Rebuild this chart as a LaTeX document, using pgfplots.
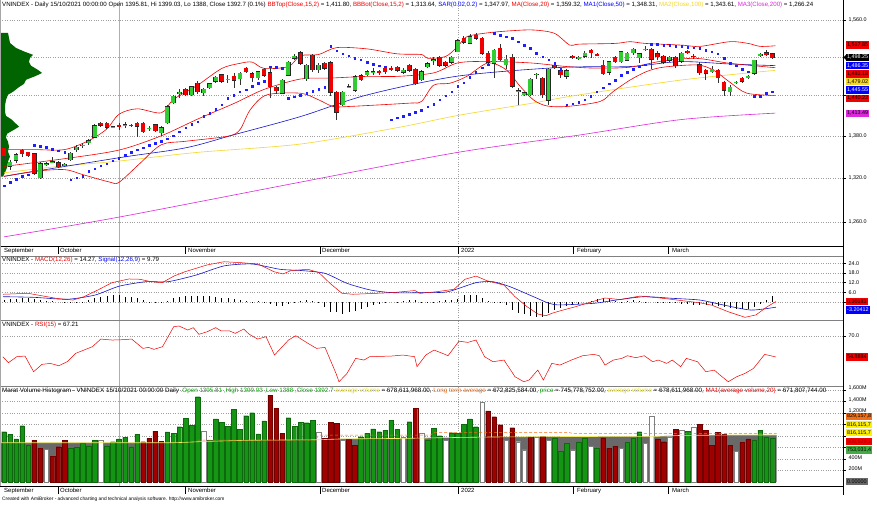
\documentclass[border=0pt]{standalone}
\usepackage{pgfplots}
\pgfplotsset{compat=1.18}
\usepackage{pgfplotstable}
\usepackage{fontspec}
\setmainfont{Liberation Sans}
\definecolor{cgreen}{RGB}{50,205,50}
\definecolor{cred}{RGB}{240,0,0}
\definecolor{vgreen}{RGB}{20,150,20}
\definecolor{vred}{RGB}{160,0,0}
\definecolor{pgreen}{RGB}{0,100,0}
\definecolor{mablue}{RGB}{20,20,200}
\definecolor{mayellow}{RGB}{245,215,40}
\definecolor{mamag}{RGB}{220,40,220}
\definecolor{cursor}{RGB}{165,165,255}
\definecolor{vgray}{RGB}{105,105,105}
\definecolor{vorange}{RGB}{240,110,20}
\definecolor{tyellow}{RGB}{230,220,0}
\definecolor{tgreen}{RGB}{0,170,0}
\definecolor{sarblue}{RGB}{30,30,255}

\pgfplotstableread{
i o h l c sar v vc hist
0 1362 1364 1346 1351 1309 875 0 1.5
1 1336.4 1345.6 1331.5 1342 1314 829 0 1.9
2 1344.6 1355 1341 1352.6 1318 748 0 2.1
3 1359 1361.5 1349 1354 1322 979 0 2.3
4 1356 1357 1349 1351 1324 643 0 2.4
5 1354 1355 1324.5 1326 1366 730 1 1.8
6 1319.9 1341.8 1318.5 1339.9 1364.5 586 1 1.3
7 1339 1342 1337 1340 1363.5 568 2 0.8
8 1342 1349 1341 1342.7 1360.7 452 1 0.4
9 1341.3 1343 1334 1335.5 1358.5 614 1 0
10 1337 1341.5 1336 1339 1356.5 730 1 -0.2
11 1345.6 1357 1344 1355 1317.5 586 0 -0.5
12 1359.9 1366 1356 1363.8 1320 603 0 -0.4
13 1366 1369 1362 1366.4 1322 673 0 -0.1
14 1369.5 1375 1367 1373.3 1329 626 0 1.5
15 1378 1397 1377 1395.2 1333 730 0 2.3
16 1398.7 1401 1393 1395.2 1337 730 2 3.0
17 1398.7 1400 1390 1392.3 1340 626 0 3.7
18 1393 1395 1392 1393.5 1344 701 0 4.2
19 1395.81 1399.03 1388 1392.7 1347.97 748 0 4.48
20 1396 1401 1391 1396.5 1352 777 0 3.0
21 1395.5 1398 1393 1395 1356 614 0 2.9
22 1398.7 1400 1378 1393.8 1360 829 0 2.2
23 1398.7 1400 1384 1386 1363 701 1 1.3
24 1390.5 1394 1387 1391 1366 759 1 0.3
25 1396.7 1398 1385 1387 1369 887 1 -0.2
26 1384.5 1394 1380 1392.3 1372 713 1 -0.6
27 1398.7 1425 1397 1423.4 1376 870 0 0.9
28 1428.6 1441 1427 1439.2 1380 846 0 2.5
29 1442.7 1450 1437 1445.8 1386 962 0 3.1
30 1449.9 1451 1439 1440.7 1392 1107 0 3.8
31 1440.7 1455 1439 1453.5 1397 991 0 4.0
32 1459.5 1462 1442 1445.8 1401 1484 0 3.8
33 1444.3 1452 1439 1449.9 1408.7 893 2 3.8
34 1452 1460 1450 1458.2 1413.6 730 0 3.5
35 1461.6 1470 1459 1468.4 1419.5 1096 0 3.0
36 1472 1474 1459 1461.6 1426 1038 0 2.6
37 1465 1472 1459 1465.5 1436 974 0 2.2
38 1470.4 1475 1452 1463.2 1441 1264 0 1.7
39 1465.3 1476 1456 1474.6 1446 916 0 1.2
40 1482.4 1485 1475 1477 1449 1153 0 0.8
41 1474 1476 1461 1466.8 1454 1206 0 0.3
42 1466.8 1478 1464 1477 1459 835 0 0.7
43 1480.8 1483 1469 1471.3 1462 1061 0 -0.4
44 1475.6 1482.4 1436 1453.1 1485 1513 1 -1.5
45 1453.1 1454 1443 1447.3 1484 1281 1 -2.3
46 1443.4 1466 1442 1464.2 1482 846 1 -2.7
47 1471 1493 1470 1491.8 1436 1119 0 -1.3
48 1498 1505 1495 1501.5 1438 974 0 -0.2
49 1507 1509 1488 1490 1441 1038 0 0.4
50 1465.3 1489 1462 1487.5 1444 1032 0 1.0
51 1503 1505 1477 1479.7 1447 1078 0 0.5
52 1479.7 1490 1475 1487.5 1450 864 2 -0.3
53 1490 1492 1480 1482 1453 759 1 -3.2
54 1491 1493 1440 1445 1517 1038 1 -6.0
55 1445.4 1447 1403.6 1414.5 1510 1020 1 -6.5
56 1426 1447 1424 1445.4 1505 730 2 -7.2
57 1453 1458 1451 1454 1502 742 1 -6.2
58 1447.8 1471 1446 1469.4 1498 643 1 -5.3
59 1471 1473 1462 1464.2 1496 788 0 -4.1
60 1472 1479 1470 1477 1491.6 846 0 -2.8
61 1476.5 1482 1472 1477 1489 922 0 -2.0
62 1477.5 1480 1472 1477 1486.5 875 0 -1.3
63 1482.4 1484 1474 1477 1485 904 0 -0.6
64 1482.4 1486 1478 1481 1403.6 1078 0 0
65 1484 1486 1476 1478.6 1406.4 916 0 0.3
66 1475.5 1482 1474 1479.7 1409 777 2 0.6
67 1487 1489 1476 1478.6 1412 1049 0 1.0
68 1480.8 1483 1456 1457.8 1415 1281 1 1.3
69 1464.2 1479 1462 1477 1418 857 2 -0.4
70 1484 1492 1482 1489.3 1423 730 0 -0.1
71 1495 1500 1488 1496 1427 934 0 0.2
72 1499.5 1501 1485 1487 1433.5 805 0 0.7
73 1492.3 1494 1485 1487 1439.5 730 2 1.0
74 1491.3 1501 1489 1499.5 1445.6 857 0 1.1
75 1508.6 1529 1508 1526.3 1454.7 846 0 1.9
76 1530 1534 1521 1523.4 1460 1003 0 4.4
77 1521.8 1537 1520 1532.5 1468 1096 0 4.4
78 1535.4 1538 1528 1530.2 1476 962 0 4.1
79 1530.2 1532 1504 1505.6 1483 1386 2 2.2
80 1506.7 1510 1489 1491.3 1488 1235 1 0.4
81 1490 1513 1467 1511.3 1538 1136 1 -0.4
82 1514 1520 1494 1495.4 1535 997 1 -0.7
83 1487.5 1503 1481 1496.5 1532.6 730 2 -1.9
84 1499.5 1505 1451 1454 1530 944 1 -4.8
85 1447 1451 1426 1447.5 1524.5 701 2 -7.0
86 1440.8 1446 1439 1444.7 1519 557 2 -7.6
87 1440.8 1467 1439 1465.3 1514 777 1 -8.7
88 1472.5 1475 1465 1473 1506 788 2 -9.1
89 1467 1469 1437 1441 1500.8 800 1 -9.2
90 1432.5 1482 1426 1480.8 1495.4 730 2 -6.7
91 1486.9 1489 1481 1483.2 1490 770 0 -5.0
92 1478.6 1480 1467 1472 1481 539 0 -3.6
93 1469.4 1481 1466 1478.6 1426 673 0 -2.7
94 1501 1503 1497 1498.5 1427.6 557 2 -1.9
95 1498 1502 1496 1500 1430 701 0 -1.1
96 1500.7 1510 1498 1506 1433.6 759 0 0
97 1511.3 1513 1498 1507 1439 626 2 0.9
98 1505 1507 1501 1503 1445.6 586 0 1.6
99 1487 1495 1472 1473.5 1452 770 1 2.2
100 1475.6 1494 1472 1493 1458 586 1 1.7
101 1499.5 1501 1490 1492.7 1463.6 626 1 0.7
102 1492.7 1510 1491 1508.6 1471.5 586 2 0.3
103 1494.5 1508 1493 1506.7 1476 690 0 0.8
104 1506.7 1515 1504 1512.5 1481 759 0 1.0
105 1498.6 1507 1490 1505.6 1485 875 0 0.8
106 1512 1518 1510 1513 1488 673 2 0.1
107 1512.3 1514 1481 1496.5 1520.6 1148 2 0
108 1505.6 1510 1495 1500.3 1520.6 748 1 -0.1
109 1501.3 1504 1489 1491.3 1519 701 1 -0.3
110 1494.5 1501 1492 1499.5 1519 788 2 -0.6
111 1499.5 1501 1483 1485.6 1517.6 916 1 -0.9
112 1493 1508 1491 1506.6 1517 904 2 -1.2
113 1509 1511 1505 1506.6 1516 887 0 -1.4
114 1501.5 1505 1497 1500.5 1515 951 2 -1.6
115 1488 1492 1472 1475 1514 1003 1 -1.7
116 1479.7 1481 1464 1474.5 1511 904 1 -1.6
117 1477 1486 1475 1481 1508.6 643 1 -1.6
118 1479.7 1481 1459 1467 1505 864 1 -2.3
119 1460.5 1462 1440 1448 1498 829 1 -3.1
120 1445.4 1457 1440 1453 1490 643 1 -3.8
121 1460 1463 1458 1461 1486 539 2 -4.1
122 1467 1469 1460 1461.6 1481 690 1 -4.5
123 1467 1472 1465 1470.4 1477 748 1 -4.2
124 1474 1496 1472 1495.4 1439 730 0 -3.2
125 1501.5 1506 1500 1504.6 1439 904 0 -1.2
126 1507 1512 1502 1503.3 1443.6 788 0 1.0
127 1505.6 1507 1497 1498.3 1445.6 759 0 3.5
}\bars

\pgfplotstableread{
w p
0 1538.7
8 1538.7
9 1530.6
10 1522.5
16 1514.5
25 1508.2
33 1503.5
30 1498.8
29 1492.5
31 1486.2
38 1479.7
42 1475
36 1470.4
26 1464.2
24 1458
18 1451.9
13 1445.8
8 1441.3
6 1433.6
5 1424.5
5 1415.5
6 1409.5
12 1403.6
16 1397.7
19 1393.3
14 1388.9
7 1383
6 1377.2
8 1371.4
9 1364.2
8 1357
10 1349.9
8 1342.8
7 1334.3
5 1327.3
3 1321.7
0 1321.7
}\profile

\pgfplotstableread{
x v
3 4.8
28 5.4
56 2.3
73 1.2
84 3.3
98 7.5
112 12
129 14.3
140 14.1
151 12.6
162 12
174 16.1
185 18.8
207 23
224 25
241 24.4
258 23.6
274 18.8
283 17.4
291 19.5
308 20.3
319 18.2
330 11.6
342 5.4
353 4.8
392 5.8
415 7.1
420 5.4
437 6.4
454 7.9
465 14.1
476 16.1
487 13.2
504 10.5
515 3.3
527 -2.9
538 -7.5
546 -8.5
552 -7
560 -5.5
575 -3
594 0.5
605 2.5
620 1.5
640 3.7
660 2.5
680 1.0
700 -0.5
712 -2
728 -6
745 -9.5
756 -8
767 -3
776 0.3
}\macdline

\pgfplotstableread{
x v
3 3.3
34 2.9
67 1.7
95 4.3
119 9.79
146 12.6
168 12.6
196 16.7
224 22.4
252 23.6
280 20.3
302 19.5
325 17.8
347 11.6
370 7.5
392 5.8
426 5.8
448 6.4
476 12.0
493 12.6
510 9.5
532 3.7
549 -0.8
560 -1.8
594 -0.8
616 1.2
644 3.3
672 2.3
700 1.2
723 -1.8
751 -5.0
776 -3.2
}\sigline

\pgfplotstableread{
x v
2.8 55.1
8.4 50.8
16.8 55.1
25 55.6
33.6 44.3
42 49.6
50.4 50.3
58.8 48.6
67.2 51.5
75.6 57.5
84 59.9
92.4 62.3
100.8 67.8
112 67.1
119.3 67.2
131.7 67.8
142.9 61.1
148.5 61.8
154 60.4
162.5 62.3
173.7 76.7
179 77.2
187.7 74.3
193.3 76.0
198.9 71.2
207.3 73.1
215.7 76.0
221.3 73.6
229.7 73.6
235.3 71.9
243.7 75.0
249.3 71.2
257.7 67.8
266 69.5
274.5 56.3
288.5 67.1
295.8 70.2
308 64.7
316.5 61.1
325 61.8
336 43.1
339 37.1
347 43.1
355.7 53.9
364 52.7
369.7 55.1
392 55.6
403 56.3
414.6 55.1
417 47.9
425.8 56.3
434 59.9
442.6 57.5
448 55.8
459 66.3
467.8 65.4
476 67.1
484.6 55.1
493 51.5
504 52.7
515 40.7
523.8 37.1
529 38.3
537.8 45.5
543.4 38.3
551.8 50.3
560 49.1
571.4 52.7
582.6 55.8
593.8 56.8
599.4 55.8
605 49.1
613.4 52.7
621.8 53.9
627.5 55.8
635.9 54.4
644.3 55.8
652.7 51.5
658.3 52.7
666.7 50.3
672.3 52.7
680.7 47.9
686.3 53.9
697.5 51.5
705.9 44.3
714.3 45.5
720 41.9
728.3 37.1
736.7 40.7
745 43.1
753.5 46.7
764.7 56.8
776 54.9
}\rsiline

\pgfplotsset{
  panel/.style={
    scale only axis, width=843pt,
    xmin=-0.661, xmax=138.68,
    axis line style={draw=none},
    xtick={75}, xticklabels={}, xmajorgrids,
    xtick style={draw=none},
    ytick pos=right, yticklabel pos=right,
    tick align=outside, major tick length=2.5pt,
    ytick style={black, line width=0.5pt},
    ymajorgrids,
    grid style={gray!75, dotted, line width=0.5pt},
    yticklabel style={font=\fontsize{5.4}{6}\selectfont, xshift=-0.5pt},
  },
  ebar/.style={only marks, mark=*, mark size=0pt, mark options={draw=none, fill=none}, forget plot, error bars/.cd, y dir=both, y explicit, error mark=none},
}
\tikzset{lab/.style={anchor=west, font=\fontsize{5.4}{6}\selectfont, inner xsep=1pt, inner ysep=0.3pt, minimum height=7.2pt, text=black}}

\begin{document}
\begin{tikzpicture}[x=1pt,y=1pt]
\useasboundingbox (0pt,0pt) rectangle (877pt,-505pt);
\fill[white] (0pt,0pt) rectangle (877pt,-505pt);
\draw[cursor, line width=0.9pt] (119pt,-1pt) -- (119pt,-486pt);

% ---------- price panel ----------
\begin{axis}[panel, at={(0pt,0pt)}, anchor=north west, height=246pt,
  ymode=log, ymin=1228.2, ymax=1593.4,
  ytick={1260,1320,1380,1440,1500,1560},
  yticklabels={{1,260.0},{1,320.0},{1,380.0},{},{},{1,560.0}}]
\addplot[fill=pgreen, draw=none] table[x expr={-0.661+\thisrow{w}/6.05}, y=p] {\profile};
\addplot[mamag, line width=0.6pt, smooth] coordinates {(0,1240) (19,1266.2) (49,1314) (75,1356) (95,1381) (112,1404) (127.5,1413.5)};
\addplot[mayellow, line width=0.6pt, smooth] coordinates {(0,1327) (9,1336) (19,1343.6) (32,1356) (49,1368) (65,1392) (75,1410) (87,1428) (95,1441) (112,1464) (127.5,1479)};
\addplot[mablue, line width=0.6pt, smooth] coordinates {(0,1322) (19,1348.3) (30,1362.5) (38,1381.5) (49,1408.4) (60,1441) (75,1470) (92,1483.6) (103.5,1485) (111.7,1492.7) (120,1489) (127.5,1486.4)};
\addplot[cred, line width=0.6pt, smooth, tension=0.5] coordinates {(0,1360) (5,1360) (10,1360) (14,1373) (17,1390) (19,1411.8) (22,1420) (26,1414) (28,1434) (32,1456) (36,1482) (39,1490) (41,1492) (43,1482) (47,1485) (49,1502) (52,1504) (55,1515) (60,1513) (65,1505) (69,1504) (70,1498) (73,1501) (75,1517) (76.5,1532.6) (80,1539) (84,1542.4) (87.5,1543.6) (91,1538) (93.5,1519) (95,1520.6) (101,1521.7) (103.5,1524.5) (106,1521.7) (112,1519) (115,1517) (120,1524.5) (123,1521.7) (125,1517) (127.5,1518)};
\addplot[cred, line width=0.6pt, smooth, tension=0.5] coordinates {(0,1336) (10,1347) (19,1359.3) (26,1380) (32,1404.6) (38,1428) (43,1449.5) (49,1465.5) (54,1467) (60,1469.6) (65,1469.6) (71,1475) (75,1490.7) (80,1493) (87,1490.7) (93,1485) (98,1482.4) (103.5,1484) (109,1494) (114.5,1497.8) (120,1490) (127.5,1483.2)};
\addplot[cred, line width=0.6pt, smooth, tension=0.5] coordinates {(0,1322) (5,1329) (10,1331.5) (13,1324.5) (17.5,1314) (19,1313.64) (22.5,1340.5) (26,1367) (30,1372) (37,1379.4) (39,1389) (40.7,1418.5) (43.4,1441) (49,1443.6) (52,1433.6) (54.4,1423.5) (57,1423.5) (67,1428.6) (69,1431) (71,1456) (73.7,1459) (76.5,1469.6) (80,1490.7) (83,1480) (85.3,1454.3) (87.5,1433.6) (89.7,1424.4) (93,1423.5) (98.5,1431) (100.7,1446.3) (103.5,1464) (106.2,1477) (109,1484) (114.5,1487.5) (117.2,1479.7) (120,1460.5) (122.8,1443.6) (127.5,1440.2)};
\addplot[sarblue, only marks, mark=square*, mark size=0.75pt, mark options={fill=sarblue, draw=none}] table[x=i, y=sar] {\bars};
% wicks
\addplot[ebar, error bar style={line width=0.7pt, draw=black!80}] table[x=i, y expr={(\thisrow{h}+\thisrow{l})/2}, y error expr={(\thisrow{h}-\thisrow{l})/2}] {\bars};
% bodies: dark outline, then green (up) and red (down) fills
\addplot[ebar, error bar style={line width=4.6pt, draw=black!85}] table[x=i, y expr={(\thisrow{o}+\thisrow{c})/2}, y error expr={abs(\thisrow{c}-\thisrow{o})/2+0.5}] {\bars};
\addplot[ebar, error bar style={line width=3.8pt, draw=cgreen}] table[x=i, y expr={(\thisrow{o}+\thisrow{c})/2}, y error expr={(\thisrow{c}>=\thisrow{o})*max(abs(\thisrow{c}-\thisrow{o})/2-0.15,0)}] {\bars};
\addplot[ebar, error bar style={line width=3.8pt, draw=cred}] table[x=i, y expr={(\thisrow{o}+\thisrow{c})/2}, y error expr={(\thisrow{c}<\thisrow{o})*max(abs(\thisrow{c}-\thisrow{o})/2-0.15,0)}] {\bars};
\end{axis}

% ---------- MACD panel ----------
\begin{axis}[panel, at={(0pt,-256pt)}, anchor=north west, height=64pt,
  ymin=-11.17, ymax=28.55, ytick={0,6,12,18,24}, yticklabels={{},6.0,12.0,18.0,24.0}]
\addplot[ycomb, black, line width=0.6pt, mark=none] table[x=i, y=hist] {\bars};
\addplot[mablue, line width=0.6pt, smooth, tension=0.4] table[x expr={(\thisrow{x}-4)/6.05}, y=v] {\sigline};
\addplot[cred, line width=0.5pt] table[x expr={(\thisrow{x}-4)/6.05}, y=v] {\macdline};
\end{axis}

% ---------- RSI panel ----------
\begin{axis}[panel, at={(0pt,-320pt)}, anchor=north west, height=66pt,
  ymin=34.03, ymax=81.51, ytick={70}, yticklabels={70.0}]
\addplot[cred, line width=0.5pt] table[x expr={(\thisrow{x}-4)/6.05}, y=v] {\rsiline};
\end{axis}

% ---------- Volume panel ----------
\begin{axis}[panel, at={(0pt,-386pt)}, anchor=north west, height=100pt,
  ymin=-69.6, ymax=1669.6, ytick={200,400,600,800,1000,1200,1400,1600},
  yticklabels={200M,400M,{},{},{},{1,200M},{1,400M},{1,600M}},
  yticklabel style={yshift=1.6pt}]
\addplot[fill=vgray, draw=none] coordinates {(-0.66,683) (28,683) (30,690) (33,705) (40,725) (52,735) (56,750) (66,758) (72,770) (80,782) (90,790) (108,795) (112,810) (120,817) (127.7,817)} \closedcycle;
\addplot[restrict expr to domain={\thisrow{vc}}{0:0}, ybar, bar width=4.6pt, bar shift=0pt, fill=vgreen, draw=vgreen!70!black, line width=0.3pt] table[x=i, y=v] {\bars};
\addplot[restrict expr to domain={\thisrow{vc}}{1:1}, ybar, bar width=4.6pt, bar shift=0pt, fill=vred, draw=vred!70!black, line width=0.3pt] table[x=i, y=v] {\bars};
\addplot[restrict expr to domain={\thisrow{vc}}{2:2}, ybar, bar width=4.6pt, bar shift=0pt, fill=white, draw=gray, line width=0.3pt] table[x=i, y=v] {\bars};
\addplot[tyellow!60!white, line width=0.6pt] coordinates {(-0.66,683) (28,683) (30,690) (33,705) (40,725) (52,735) (56,750) (66,758) (72,770) (80,782) (90,790) (108,795) (112,810) (120,817) (127.7,817)};
\addplot[vorange, densely dashed, line width=0.5pt] coordinates {(32,730) (51.5,730) (52,817) (70.5,817) (71,857) (93.5,857) (94,845) (127.7,845)};
\end{axis}

% ---------- frame lines ----------
\draw[black, line width=0.8pt] (843pt,0pt) -- (843pt,-495pt);
\draw[black, line width=0.7pt] (0pt,-246pt) -- (843pt,-246pt);
\draw[gray, line width=0.6pt] (0pt,-256pt) -- (843pt,-256pt);
\draw[gray, line width=0.6pt] (0pt,-320pt) -- (843pt,-320pt);
\draw[gray, line width=0.6pt] (0pt,-386pt) -- (843pt,-386pt);
\draw[black, line width=0.7pt] (0pt,-486pt) -- (843pt,-486pt);
\draw[gray!70, line width=0.5pt] (0.3pt,0pt) -- (0.3pt,-486pt);

% ---------- date strips ----------
\foreach \yy in {-250.8,-490.8}{
 \foreach \xx/\tt in {4/September,60/October,188/November,322/December,461/2022,577/February,672/March}{
   \node[anchor=west, inner sep=0pt, font=\fontsize{6}{7}\selectfont] at (\xx pt,\yy pt) {\tt};
 }
}
\foreach \xx in {58,185,320,458,573,668}{
  \draw[black, line width=0.5pt] (\xx pt,-246pt) -- (\xx pt,-254pt);
  \draw[black, line width=0.5pt] (\xx pt,-486pt) -- (\xx pt,-494pt);
}

% ---------- titles ----------
\node[anchor=west, inner sep=0pt, font=\fontsize{6.15}{7}\selectfont] at (2pt,-5pt) {VNINDEX - Daily 15/10/2021 00:00:00 Open 1395.81, Hi 1399.03, Lo 1388, Close 1392.7 (0.1\%) \textcolor{cred}{BBTop(Close,15,2)} = 1,411.80, \textcolor{cred}{BBBot(Close,15,2)} = 1,313.64, \textcolor{blue}{SAR(0.02,0.2)} = 1,347.97, \textcolor{cred}{MA(Close,20)} = 1,359.32, \textcolor{blue}{MA1(Close,50)} = 1,348.31, \textcolor{mayellow}{MA2(Close,100)} = 1,343.61, \textcolor{mamag}{MA3(Close,200)} = 1,266.24};
\node[anchor=west, inner sep=0pt, font=\fontsize{6.15}{7}\selectfont] at (2pt,-260pt) {VNINDEX - \textcolor{cred}{MACD(12,26)} = 14.27, \textcolor{blue}{Signal(12,26,9)} = 9.79};
\node[anchor=west, inner sep=0pt, font=\fontsize{6.15}{7}\selectfont] at (2pt,-324.5pt) {VNINDEX - \textcolor{cred}{RSI(15)} = 67.21};
\node[anchor=west, inner sep=0pt, font=\fontsize{6.25}{7}\selectfont] at (2pt,-390.5pt) {Marat Volume Histogram - VNINDEX 15/10/2021 00:00:00 Daily \textcolor{tgreen}{.Open 1395.81 ,High 1399.03 ,Low 1388 ,Close 1392.7} \textcolor{tyellow}{average volume} = 678,611,968.00, \textcolor{vorange}{Long term average} = 672,825,584.00, \textcolor{tgreen}{price} = 745,778,752.00, \textcolor{tyellow}{average volume} = 678,611,968.00, \textcolor{cred}{MA1(average volume,20)} = 671,807,744.00};
\node[anchor=west, inner sep=0pt, font=\fontsize{4.85}{5}\selectfont] at (2pt,-499.5pt) {Created with AmiBroker - advanced charting and technical analysis software. http://www.amibroker.com};

% ---------- value labels ----------
\node[lab, fill=cred] at (846pt,-45pt) {1,517.85};
\fill[black] (843.5pt,-57.3pt) -- (846.5pt,-54.3pt) -- (846.5pt,-60.3pt) -- cycle;
\node[lab, fill=black, text=white] at (846pt,-57.3pt) {1,498.25};
\node[lab, fill=blue, text=white] at (846pt,-65.7pt) {1,486.35};
\node[lab, fill=cred] at (846pt,-74pt) {1,483.18};
\node[lab, fill=mayellow] at (846pt,-81.7pt) {1,479.02};
\node[lab, fill=blue, text=white] at (846pt,-90pt) {1,445.55};
\node[lab, fill=cred] at (846pt,-98.3pt) {1,440.23};
\node[lab, fill=mamag] at (846pt,-113.3pt) {1,413.49};
\node[lab, fill=cred] at (846pt,-301.7pt) {0.30183};
\node[lab, fill=blue, text=white] at (846pt,-310pt) {-3.20412};
\node[lab, fill=cred] at (846pt,-357pt) {54.8884};
\node[lab, fill=vorange] at (846pt,-416.2pt) {829,157,8};
\node[lab, fill=yellow] at (846pt,-424.5pt) {816,115,7};
\node[lab, fill=yellow] at (846pt,-432.8pt) {816,115,7};
\node[lab, fill=cred, text=vred] at (846pt,-441.7pt) {808,529,1};
\node[lab, fill=vgreen!80!white] at (846pt,-450pt) {753,031,4};
\node[lab, fill=vgray, text=black] at (846pt,-481.7pt) {0.00000};
\end{tikzpicture}
\end{document}
